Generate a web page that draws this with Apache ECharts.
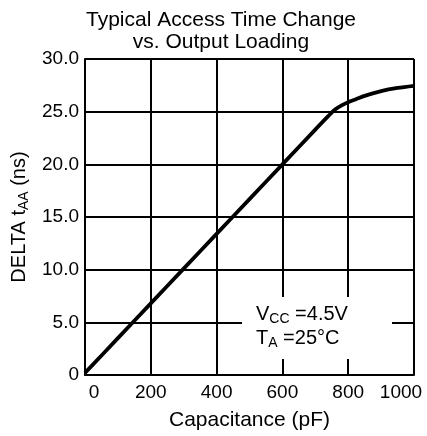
<!DOCTYPE html>
<html>
<head>
<meta charset="utf-8">
<script src="https://cdn.jsdelivr.net/npm/echarts@6/dist/echarts.min.js"></script>
<style>
html,body{margin:0;padding:0;background:#fff;}
#chart{width:427px;height:436px;}
</style>
</head>
<body>
<div id="chart"></div>
<script>
// ---- data ----
const titleLines = ['Typical Access Time Change', 'vs. Output Loading'];
const xTicks = [0, 200, 400, 600, 800, 1000];
const xTickLabels = ['0', '200', '400', '600', '800', '1000'];
const yTicks = [0, 5, 10, 15, 20, 25, 30];
const yTickLabels = ['0', '5.0', '10.0', '15.0', '20.0', '25.0', '30.0'];
const capacitance = [0, 100, 200, 300, 400, 500, 600, 700, 740, 760, 780, 800, 825, 850, 900, 950, 1000];
const deltaTaa = [0.2, 3.5, 6.8, 10.1, 13.4, 16.7, 20.0, 23.3, 24.6, 25.2, 25.6, 25.9, 26.2, 26.5, 26.95, 27.25, 27.45];
const xName = 'Capacitance (pF)';
const yNameParts = ['DELTA t', 'AA', ' (ns)'];
const noteVcc = ['V', 'CC', ' =4.5V'];
const noteTa = ['T', 'A', ' =25°C'];

const FONT = '"Liberation Sans", Arial, sans-serif';
const chart = echarts.init(document.getElementById('chart'), null, {renderer: 'canvas'});

const subRich = {
  m: {fontSize: 20, fontFamily: FONT, color: '#000', lineHeight: 24},
  s: {fontSize: 14, fontFamily: FONT, color: '#000', lineHeight: 14, verticalAlign: 'bottom'}
};

function richOf(parts) {
  return '{m|' + parts[0] + '}{s|' + parts[1] + '}{m|' + parts[2] + '}';
}

const option = {
  animation: false,
  backgroundColor: '#fff',
  grid: {left: 85, right: 13, top: 59, bottom: 59, containLabel: false},
  xAxis: {
    type: 'value', min: 0, max: 1000, interval: 200,
    name: xName, nameLocation: 'middle', nameGap: 35,
    nameTextStyle: {fontSize: 21, fontFamily: FONT, color: '#000'},
    axisLine: {show: true, lineStyle: {color: '#000', width: 2}},
    axisTick: {show: false},
    splitLine: {show: true, lineStyle: {color: '#000', width: 2}},
    axisLabel: {
      fontSize: 19, fontFamily: FONT, color: '#000', margin: 8,
      formatter: function (v) {
        const i = xTicks.indexOf(v);
        const s = i >= 0 ? xTickLabels[i] : '';
        if (i === 0) return '{l|' + s + '}';
        if (i === xTicks.length - 1) return '{r|' + s + '}';
        return s;
      },
      rich: {
        l: {fontSize: 19, fontFamily: FONT, color: '#000', padding: [0, 0, 0, 18]},
        r: {fontSize: 19, fontFamily: FONT, color: '#000', padding: [0, 26, 0, 0]}
      }
    }
  },
  yAxis: {
    type: 'value', min: 0, max: 30, interval: 5,
    name: richOf(yNameParts), nameLocation: 'middle', nameGap: 52, nameRotate: 90,
    nameTextStyle: {rich: subRich},
    axisLine: {show: true, lineStyle: {color: '#000', width: 2}},
    axisTick: {show: false},
    splitLine: {show: true, lineStyle: {color: '#000', width: 2}},
    axisLabel: {
      fontSize: 19, fontFamily: FONT, color: '#000', margin: 6,
      formatter: function (v) {
        const i = yTicks.indexOf(v);
        return i >= 0 ? yTickLabels[i] : '';
      }
    }
  },
  series: [{
    type: 'line',
    data: capacitance.map((c, i) => [c, deltaTaa[i]]),
    smooth: 0.3,
    showSymbol: false,
    lineStyle: {color: '#000', width: 3.8},
    z: 5
  }],
  graphic: [
    {type: 'text', x: 221, y: 20, z: 100,
     style: {text: titleLines[0], fontSize: 21, fontFamily: FONT, fill: '#000', textAlign: 'center', textVerticalAlign: 'middle'}},
    {type: 'text', x: 221, y: 42, z: 100,
     style: {text: titleLines[1], fontSize: 21, fontFamily: FONT, fill: '#000', textAlign: 'center', textVerticalAlign: 'middle'}},
    {type: 'rect', z: 100, shape: {x: 242, y: 297, width: 150, height: 62}, style: {fill: '#fff'}},
    {type: 'text', x: 256, y: 314, z: 101,
     style: {text: richOf(noteVcc), rich: subRich, textAlign: 'left', textVerticalAlign: 'middle'}},
    {type: 'text', x: 256, y: 338, z: 101,
     style: {text: richOf(noteTa), rich: subRich, textAlign: 'left', textVerticalAlign: 'middle'}}
  ]
};
chart.setOption(option);
</script>
</body>
</html>
